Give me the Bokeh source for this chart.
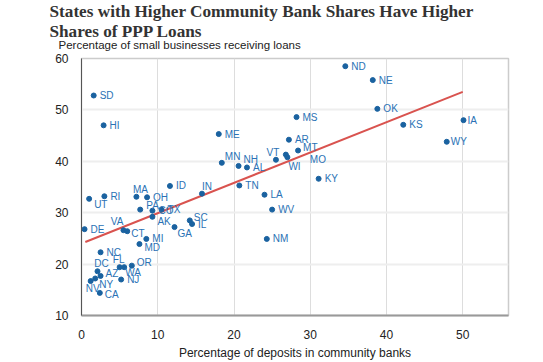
from bokeh.plotting import figure
from bokeh.models import ColumnDataSource, Range1d, Title, FixedTicker
from bokeh.core.properties import value
from bokeh.embed import file_html
from bokeh.resources import INLINE

# ---- data ----
states = ["ND", "NE", "OK", "KS", "IA", "WY", "MS", "ME", "AR", "MT", "VT", "MO", "WI",
          "MN", "NH", "AL", "KY", "TN", "LA", "WV", "NM", "IN", "ID", "SD", "HI", "RI",
          "MA", "OH", "UT", "PA", "CO", "TX", "AK", "SC", "IL", "GA", "VA", "CT", "DE",
          "MI", "MD", "NC", "DC", "FL", "WA", "OR", "AZ", "NY", "NV", "NJ", "CA"]
deposits_share = [34.6, 38.2, 38.8, 42.2, 50.1, 47.9, 28.2, 18.0, 27.2, 28.4, 25.5, 26.8, 27.0,
                  18.4, 20.6, 21.7, 31.1, 20.7, 24.0, 25.0, 24.3, 15.8, 11.6, 1.6, 2.9, 3.0,
                  7.2, 8.6, 1.0, 7.7, 9.3, 10.5, 9.3, 14.2, 14.5, 12.2, 5.5, 6.0, 0.4,
                  8.5, 7.6, 2.5, 2.1, 5.0, 5.6, 6.6, 2.5, 1.8, 1.2, 5.2, 2.4]
loans_share = [58.5, 55.8, 50.2, 47.1, 48.0, 43.8, 48.6, 45.3, 44.2, 42.1, 40.3, 41.3, 40.8,
               39.7, 39.1, 38.8, 36.6, 35.3, 33.5, 30.6, 24.9, 33.7, 35.2, 52.8, 47.0, 33.2,
               33.1, 33.0, 32.7, 30.6, 30.4, 30.6, 29.2, 28.5, 27.8, 27.2, 26.6, 26.4, 26.8,
               24.9, 23.9, 22.3, 18.6, 19.4, 19.4, 19.7, 17.7, 17.2, 16.7, 17.0, 14.4]
trend_x = [0.5, 50.0]
trend_y = [24.3, 53.5]
x_ticks = [0, 10, 20, 30, 40, 50]
y_ticks = [10, 20, 30, 40, 50, 60]

title_text = "States with Higher Community Bank Shares Have Higher\nShares of PPP Loans"
subtitle_text = "Percentage of small businesses receiving loans"
xlabel_text = "Percentage of deposits in community banks"

# ---- label placement (screen px: dx right, dy down, alignment) ----
label_place = {
    "MN": (3, -6, "left"), "NH": (5, -6, "left"), "VT": (-3, -7, "center"),
    "WI": (1, 9, "left"), "MO": (24, 5, "left"), "MT": (5, -3, "left"),
    "IN": (0, -7, "left"), "MA": (4, -7, "center"), "UT": (5, 6, "left"),
    "PA": (6, -4, "left"), "AK": (5, 5, "left"), "VA": (0, -9, "right"),
    "CT": (4, 2, "left"), "SC": (4, -3, "left"), "GA": (3, 6, "left"),
    "MD": (5, 3, "left"), "DC": (4, -8, "center"), "FL": (-1, -8, "center"),
    "WA": (1, 5, "left"), "OR": (5, -3, "left"), "AZ": (5, -2, "left"),
    "NY": (4, 6, "left"), "NV": (2, 7, "center"), "CA": (5, 2, "left"),
    "WY": (4, 0, "left"), "IA": (4, 0, "left"),
}
dxs, dys, aligns = [], [], []
for s in states:
    dx, dy, al = label_place.get(s, (6, 0, "left"))
    dxs.append(dx); dys.append(dy); aligns.append(al)

src = ColumnDataSource(dict(x=deposits_share, y=loans_share, st=states,
                            dx=dxs, dy=dys, al=aligns))

p = figure(width=543, height=362, output_backend="svg", toolbar_location=None,
           x_range=Range1d(0, 56), y_range=Range1d(10, 60),
           min_border_left=81, min_border_right=35, min_border_top=58, min_border_bottom=42)
p.title.visible = False

sub = Title(text=subtitle_text, align="left", offset=-23, standoff=15,
            text_font="Liberation Sans", text_font_size="11.5px", text_font_style="normal",
            text_color="#222222")
p.add_layout(sub, "above")
ttl = Title(text=title_text, align="left", offset=-32, standoff=-23,
            text_font="Liberation Serif", text_font_size="17.2px", text_font_style="bold",
            text_color="#333333", text_line_height=1.05)
p.add_layout(ttl, "above")

p.background_fill_color = "white"
p.border_fill_color = "white"
p.outline_line_color = "#cccccc"
p.outline_line_width = 1.5

p.xgrid.grid_line_color = "#dddddd"
p.xgrid.grid_line_width = 1
p.ygrid.grid_line_color = "#eeeeee"
p.ygrid.grid_line_width = 2
p.xaxis.ticker = FixedTicker(ticks=x_ticks)
p.yaxis.ticker = FixedTicker(ticks=y_ticks)
p.xgrid.ticker = FixedTicker(ticks=x_ticks)
p.ygrid.ticker = FixedTicker(ticks=y_ticks)

for ax in (p.xaxis[0], p.yaxis[0]):
    ax.major_tick_line_color = None
    ax.minor_tick_line_color = None
    ax.major_label_text_font = "Liberation Sans"
    ax.major_label_text_font_size = "12px"
    ax.major_label_text_color = "#222222"
    ax.axis_label_text_font = "Liberation Sans"
    ax.axis_label_text_font_size = "12px"
    ax.axis_label_text_font_style = "normal"
    ax.axis_label_text_color = "#222222"
p.yaxis.axis_line_color = "#555555"
p.yaxis.axis_line_width = 1
p.yaxis.major_label_standoff = 7
p.xaxis.axis_line_color = "#999999"
p.xaxis.axis_line_width = 2
p.xaxis.major_label_standoff = 8
p.xaxis.axis_label = xlabel_text
p.xaxis.axis_label_standoff = 4

p.line(trend_x, trend_y, line_color="#d9534f", line_width=2)
p.scatter("x", "y", source=src, size=5, fill_color="#1a62a0", line_color="#1a62a0")
p.text("x", "y", text="st", source=src, x_offset="dx", y_offset="dy", text_align="al",
       text_baseline="middle", text_font=value("Liberation Sans"), text_font_size="10px",
       text_color="#2a72b5")

open("out.html", "w").write(file_html(p, INLINE))
